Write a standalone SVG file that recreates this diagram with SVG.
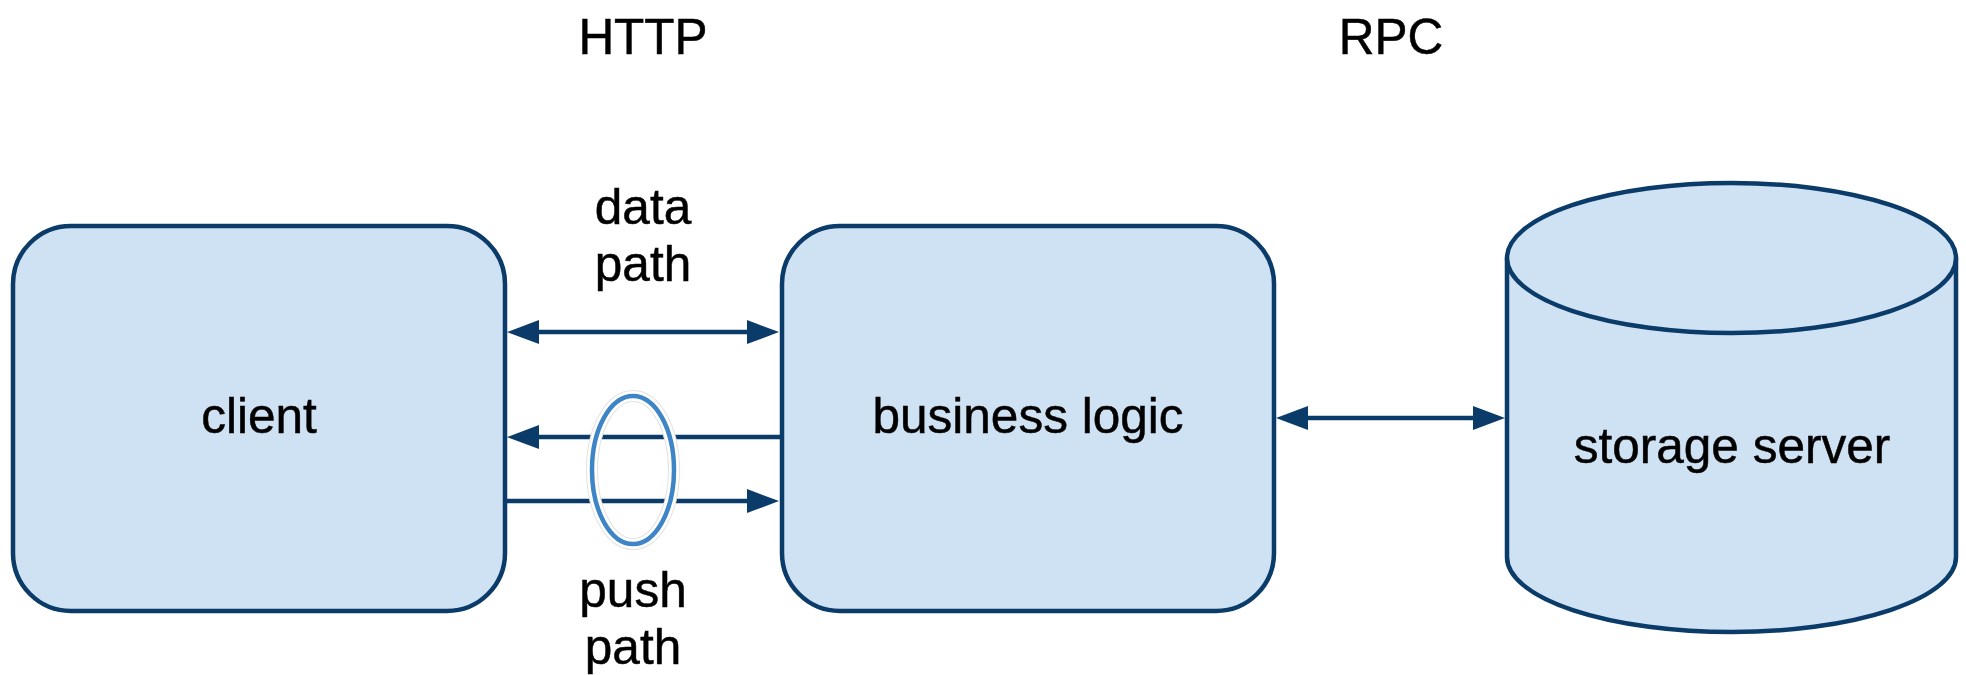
<svg xmlns="http://www.w3.org/2000/svg" width="1966" height="675" viewBox="0 0 1966 675">
  <style>
    .box { fill: #cfe2f3; stroke: #0b3b69; stroke-width: 4.5; }
    .lbl { font-family: "Liberation Sans", Arial, sans-serif; font-size: 49.5px; fill: #000; stroke: #000; stroke-width: 0.5; text-anchor: middle; }
    .link { stroke: #0b3b69; stroke-width: 4.5; fill: none; }
  </style>
  <defs>
    <marker id="arrow" markerUnits="userSpaceOnUse" markerWidth="32" markerHeight="24" viewBox="0 0 32 24" refX="22" refY="12" orient="auto-start-reverse">
      <path d="M0,0 L32,12 L0,24 z" fill="#0b3b69"/>
    </marker>
  </defs>

  <rect width="1966" height="675" fill="#fff"/>

  <!-- protocol captions -->
  <text class="lbl" x="643" y="54">HTTP</text>
  <text class="lbl" x="1391" y="54">RPC</text>

  <!-- client -->
  <g id="client">
    <rect class="box" x="13" y="226" width="492" height="385" rx="58" ry="58"/>
    <text class="lbl" x="259" y="433">client</text>
  </g>

  <!-- business logic -->
  <g id="business-logic">
    <rect class="box" x="782" y="226" width="492" height="385" rx="58" ry="58"/>
    <text class="lbl" x="1028" y="433">business logic</text>
  </g>

  <!-- storage server cylinder -->
  <g id="storage-server">
    <path class="box" d="M1507,258 L1507,557 A224.5,75 0 0 0 1956,557 L1956,258"/>
    <ellipse class="box" cx="1731.5" cy="258" rx="224.5" ry="75"/>
    <text class="lbl" x="1732" y="463">storage server</text>
  </g>

  <!-- connectors -->
  <g id="connectors">
    <line class="link" x1="517" y1="332" x2="769" y2="332" marker-start="url(#arrow)" marker-end="url(#arrow)"/>
    <line class="link" x1="780" y1="437" x2="517" y2="437" marker-end="url(#arrow)"/>
    <line class="link" x1="507" y1="501" x2="769" y2="501" marker-end="url(#arrow)"/>
    <line class="link" x1="1286" y1="418" x2="1495" y2="418" marker-start="url(#arrow)" marker-end="url(#arrow)"/>
  </g>

  <!-- path labels -->
  <g id="data-path">
    <text class="lbl" x="643" y="224">data</text>
    <text class="lbl" x="643" y="281">path</text>
  </g>

  <g id="push-path">
    <ellipse cx="633" cy="470" rx="41" ry="74" fill="none" stroke="#e2e2e2" stroke-width="12"/>
    <ellipse cx="633" cy="470" rx="41" ry="74" fill="none" stroke="#fff" stroke-width="10"/>
    <ellipse cx="633" cy="470" rx="41" ry="74" fill="none" stroke="#3d85c6" stroke-width="4.5"/>
    <text class="lbl" x="633" y="607">push</text>
    <text class="lbl" x="633" y="664">path</text>
  </g>
</svg>
